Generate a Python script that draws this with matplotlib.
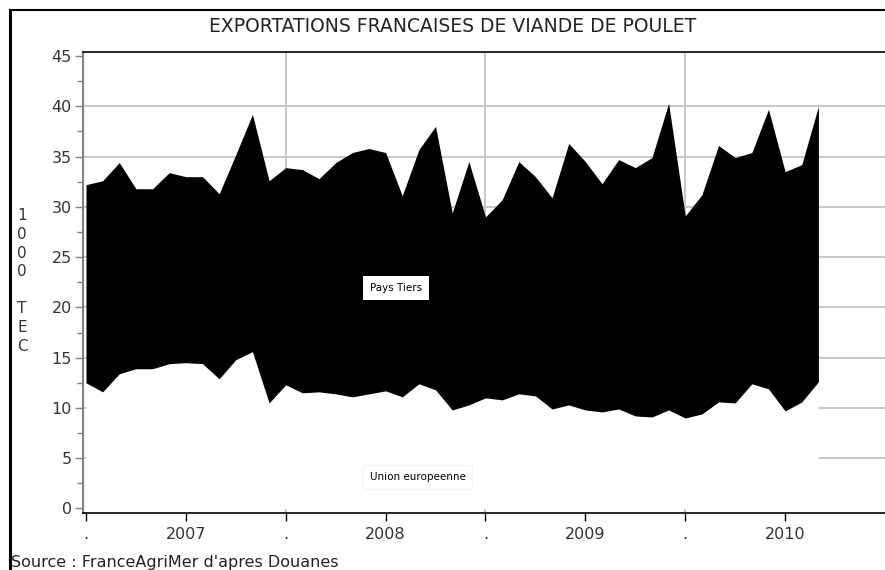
import matplotlib
matplotlib.use('Agg')
import matplotlib.pyplot as plt
import numpy as np
from matplotlib.ticker import MultipleLocator, FixedLocator, FuncFormatter
from matplotlib.lines import Line2D

# monthly data, Jan 2007 -> Sep 2010 (1000 TEC)
start_year = 2007
ue = [12.5, 11.6, 13.4, 13.9, 13.9, 14.4, 14.5, 14.4, 12.9, 14.8, 15.6, 10.5,
      12.3, 11.5, 11.6, 11.4, 11.1, 11.4, 11.7, 11.1, 12.4, 11.8, 9.8, 10.3,
      11.0, 10.8, 11.4, 11.2, 9.9, 10.3, 9.8, 9.6, 9.9, 9.2, 9.1, 9.8,
      9.0, 9.4, 10.6, 10.5, 12.4, 11.9, 9.7, 10.6, 12.6]
total = [32.2, 32.6, 34.4, 31.8, 31.8, 33.4, 33.0, 33.0, 31.3, 35.2, 39.2, 32.6,
         33.9, 33.7, 32.8, 34.4, 35.4, 35.8, 35.4, 31.1, 35.7, 38.0, 29.4, 34.5,
         29.0, 30.7, 34.5, 33.0, 30.9, 36.3, 34.5, 32.3, 34.7, 33.9, 34.9, 40.3,
         29.1, 31.2, 36.1, 34.9, 35.4, 39.7, 33.5, 34.2, 40.0]
years = [2007, 2008, 2009, 2010]

x = start_year + np.arange(len(ue)) / 12.0
ue = np.array(ue)
total = np.array(total)

fig = plt.figure(figsize=(8.85, 5.70), dpi=100)
ax = fig.add_axes([83 / 885, 1 - 513 / 570, 1 - 83 / 885, (513 - 52) / 570])

grid_col = '#c8c8c8'
ax.fill_between(x, 0, ue, color='white', lw=0, zorder=2)
ax.fill_between(x, ue, total, color='black', lw=0, zorder=2)

ax.set_xlim(2006.985, 2011.0)
ax.set_ylim(-0.45, 45.4)

# y axis
ax.yaxis.set_major_locator(FixedLocator(np.arange(0, 46, 5)))
ax.yaxis.set_minor_locator(MultipleLocator(2.5))
ax.tick_params(axis='y', which='major', direction='out', length=6, width=1,
               color='#808080', labelsize=11.5, pad=2, labelcolor='#333333')
ax.tick_params(axis='y', which='minor', direction='out', length=4, width=1,
               color='#808080')
for yv in np.arange(5, 45, 5):
    ax.axhline(yv, color=grid_col, lw=1.4, zorder=0)

# x axis: '.' at year start, year label at mid-year
ax.xaxis.set_major_locator(FixedLocator(years))
ax.xaxis.set_minor_locator(FixedLocator([yr + 0.5 for yr in years]))
ax.xaxis.set_major_formatter(FuncFormatter(lambda v, p: '.'))
ax.xaxis.set_minor_formatter(FuncFormatter(lambda v, p: '%d' % int(v)))
ax.tick_params(axis='x', which='both', direction='out', length=6, width=1,
               color='black', labelsize=11.5, pad=4, labelcolor='#333333')
for yr in years[1:]:
    ax.axvline(yr, color=grid_col, lw=1.4, zorder=0)

ax.spines['left'].set_color('#808080')
ax.spines['left'].set_linewidth(1.5)
ax.spines['bottom'].set_linewidth(1.2)
ax.spines['top'].set_linewidth(1.2)
ax.spines['right'].set_visible(False)

# series labels
ax.text(2008.55, 21.9, 'Pays Tiers', fontsize=7.5, color='black', ha='center', va='center',
        zorder=5, bbox=dict(facecolor='white', edgecolor='none', pad=5))
ax.text(2008.66, 3.1, 'Union europeenne', fontsize=7.5, color='black', ha='center', va='center',
        zorder=5, bbox=dict(facecolor='white', edgecolor='#f4f4f4', pad=5))

fig.text(453 / 885, 1 - 26 / 570, 'EXPORTATIONS FRANCAISES DE VIANDE DE POULET',
         ha='center', va='center', fontsize=13.5, color='#222222')
fig.text(22 / 885, 1 - 281 / 570, '1\n0\n0\n0\n\nT\nE\nC', ha='center', va='center',
         fontsize=11, color='#333333', linespacing=1.3)
fig.text(11 / 885, 1 - 563 / 570, "Source : FranceAgriMer d'apres Douanes",
         ha='left', va='center', fontsize=11.5, color='#222222')

# outer frame
fx = 10 / 885
fy = 1 - 10 / 570
fig.add_artist(Line2D([fx, fx], [0, fy], transform=fig.transFigure, color='black', lw=2.2))
fig.add_artist(Line2D([fx, 1], [fy, fy], transform=fig.transFigure, color='black', lw=1.5))

fig.savefig('out.png', dpi=100)
